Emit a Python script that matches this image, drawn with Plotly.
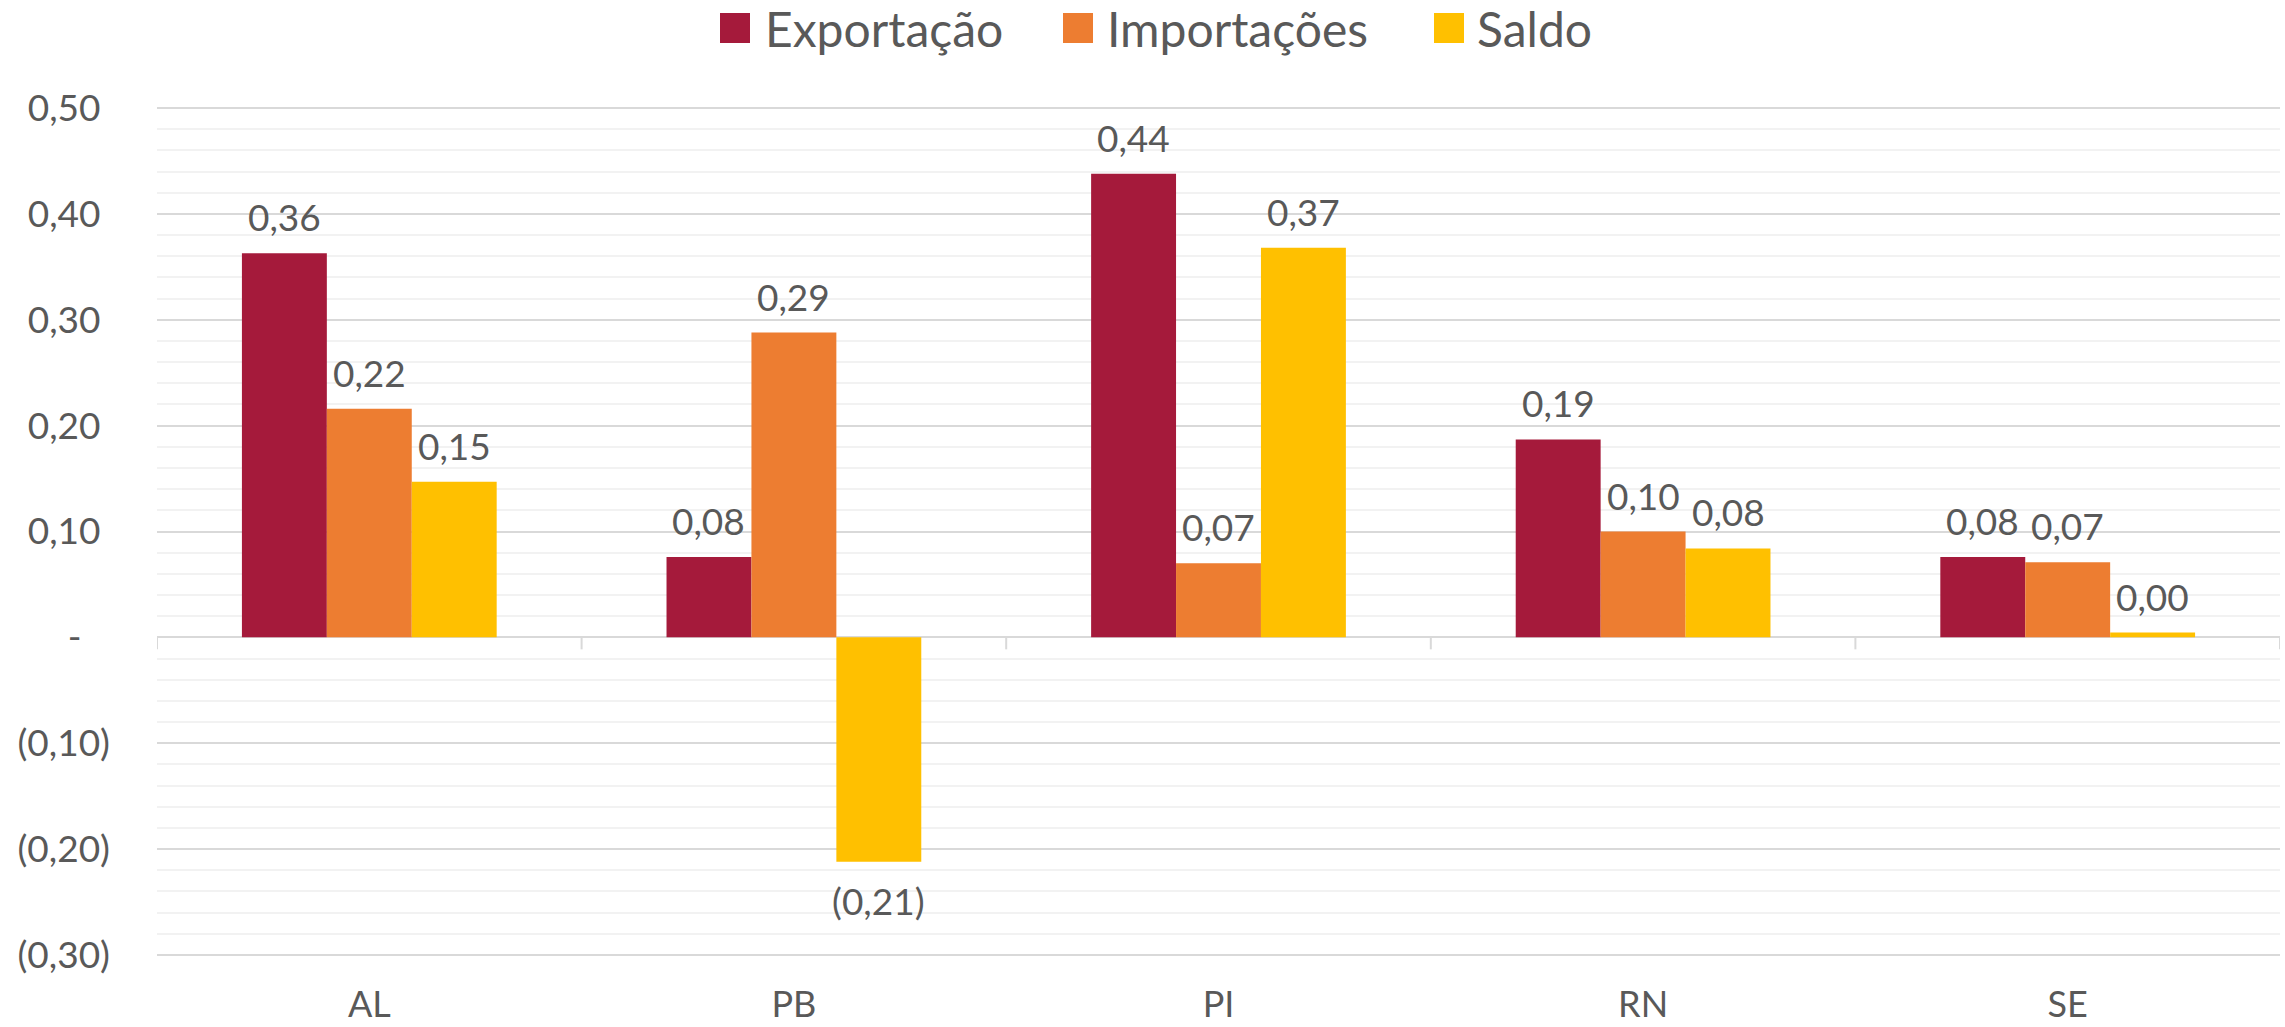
import plotly.graph_objects as go

# Data
estados = ["AL", "PB", "PI", "RN", "SE"]
exportacao = [0.363, 0.076, 0.438, 0.187, 0.076]
importacoes = [0.216, 0.288, 0.070, 0.100, 0.071]
saldo = [0.147, -0.212, 0.368, 0.084, 0.0045]

series_names = ["Exportação", "Importações", "Saldo"]
series_colors = ["#A51A3B", "#ED7D31", "#FFC000"]

y_tickvals = [0.5, 0.4, 0.3, 0.2, 0.1, 0.0, -0.1, -0.2, -0.3]
Y_RANGE = [-0.302, 0.502]

# Canvas / plot geometry (pixels)
W, H = 2285, 1027
M_L, M_R, M_T, M_B = 157, 5, 106, 70
PLOT_W = W - M_L - M_R
PLOT_H = H - M_T - M_B
BARGAP = 0.4
BAR_PX = PLOT_W / len(estados) * (1 - BARGAP) / 3

TEXT = "#595959"
FONT = "Lato"


def fmt(v):
    s = f"{abs(v):.2f}".replace(".", ",")
    return f"({s})" if v < 0 else s


def ytick(v):
    if abs(v) < 1e-9:
        return "-\u00a0\u00a0\u00a0"
    s = f"{abs(v):.2f}".replace(".", ",")
    return f"({s})" if v < 0 else s + "\u00a0"


def px_x(px):
    return (px - M_L) / PLOT_W


def px_y(py):
    return (H - M_B - py) / PLOT_H


fig = go.Figure()
all_series = [exportacao, importacoes, saldo]
for name, vals, col in zip(series_names, all_series, series_colors):
    fig.add_trace(go.Bar(x=estados, y=vals, name=name, marker_color=col,
                         marker_line_width=0, showlegend=False))

# value labels above / below each bar
annotations = []
for i, vals in enumerate(all_series):
    for cat, v in zip(estados, vals):
        neg = v < 0
        annotations.append(dict(
            x=cat, y=v, xref="x", yref="y", text=fmt(v), showarrow=False,
            xshift=(i - 1) * BAR_PX,
            yanchor="top" if neg else "bottom",
            yshift=-14 if neg else 12,
            font=dict(family=FONT, size=37, color=TEXT)))

# legend drawn at the top centre
legend_items = [(720, 767), (1063, 1109), (1434, 1479)]
shapes = []
for (mx, tx), name, col in zip(legend_items, series_names, series_colors):
    shapes.append(dict(type="rect", xref="paper", yref="paper",
                       x0=px_x(mx), x1=px_x(mx + 30), y0=px_y(43), y1=px_y(13),
                       fillcolor=col, line_width=0))
    annotations.append(dict(x=px_x(tx - 4), y=px_y(28), xref="paper", yref="paper",
                            xanchor="left", yanchor="middle", text=name,
                            showarrow=False,
                            font=dict(family=FONT, size=48, color=TEXT)))

# category separator ticks hanging from the zero line
for k in range(len(estados) + 1):
    shapes.append(dict(type="line", xref="x", yref="y", ysizemode="pixel",
                       yanchor=0, x0=k - 0.5, x1=k - 0.5, y0=0, y1=-12,
                       line=dict(color="#D9D9D9", width=2)))

fig.update_layout(
    width=W, height=H,
    margin=dict(l=M_L, r=M_R, t=M_T, b=M_B, autoexpand=False),
    paper_bgcolor="white", plot_bgcolor="white",
    barmode="group", bargap=BARGAP, bargroupgap=0,
    showlegend=False,
    annotations=annotations, shapes=shapes,
    font=dict(family=FONT, color=TEXT),
)
fig.update_xaxes(type="category", showgrid=False, showline=False, ticks="",
                 automargin=False,
                 tickfont=dict(family=FONT, size=36, color=TEXT),
                 ticklabelstandoff=23, range=[-0.5, len(estados) - 0.5])
fig.update_yaxes(range=Y_RANGE, tickvals=y_tickvals,
                 ticktext=[ytick(v) for v in y_tickvals],
                 automargin=False,
                 showgrid=True, gridcolor="#D9D9D9", gridwidth=2,
                 zeroline=True, zerolinecolor="#D9D9D9", zerolinewidth=2,
                 minor=dict(dtick=0.02, tick0=0, showgrid=True,
                            gridcolor="#F2F2F2", gridwidth=2),
                 ticks="", ticklabelstandoff=46,
                 tickfont=dict(family=FONT, size=37, color=TEXT))

fig.write_html("out.html")
